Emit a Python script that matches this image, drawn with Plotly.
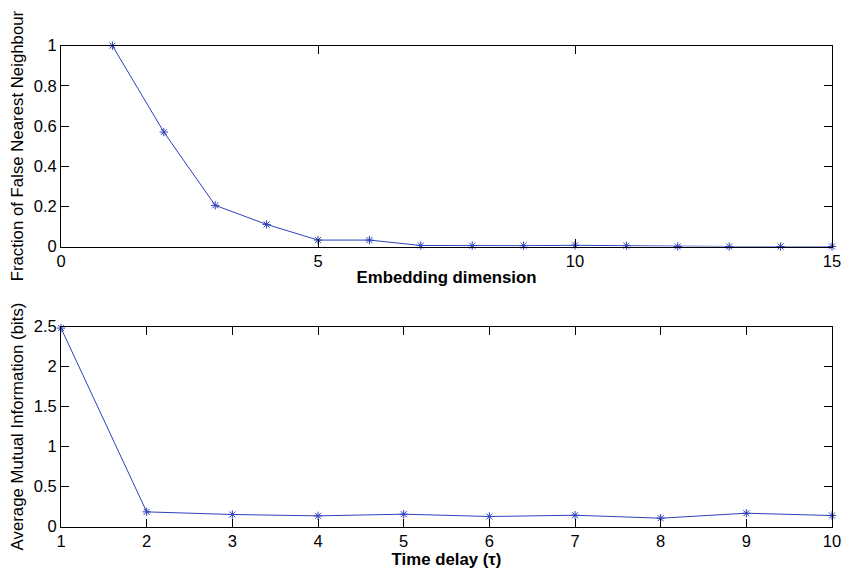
import plotly.graph_objects as go

emb_dim = list(range(1, 16))
fnn_frac = [1.0, 0.57, 0.205, 0.11, 0.032, 0.032, 0.005, 0.004, 0.004, 0.006, 0.004, 0.0, 0.0, 0.0, 0.0]

delay = list(range(1, 11))
ami_bits = [2.48, 0.183, 0.15, 0.133, 0.154, 0.125, 0.141, 0.104, 0.166, 0.137]

top_xticks = [0, 5, 10, 15]
top_yticks = [0, 0.2, 0.4, 0.6, 0.8, 1]
top_yticktext = ["0", "0.2", "0.4", "0.6", "0.8", "1"]
bot_xticks = list(range(1, 11))
bot_yticks = [0, 0.5, 1, 1.5, 2, 2.5]
bot_yticktext = ["0", "0.5", "1", "1.5", "2", "2.5"]

col = "rgb(45,65,185)"
fam = "Liberation Sans, Arial, Helvetica, sans-serif"
fig = go.Figure()
for xs, ys, xa, ya in [(emb_dim, fnn_frac, "x", "y"), (delay, ami_bits, "x2", "y2")]:
    fig.add_trace(go.Scatter(x=xs, y=ys, mode="lines+markers",
                             line=dict(color=col, width=1),
                             marker=dict(symbol="asterisk-open", size=7, color=col,
                                         line=dict(color=col, width=1)),
                             xaxis=xa, yaxis=ya, showlegend=False, cliponaxis=False))

font = dict(family=fam, size=16.5, color="black")
axis_common = dict(showgrid=False, zeroline=False, showline=True, linecolor="black", linewidth=1,
                   mirror="ticks", ticks="inside", ticklen=8, tickcolor="black",
                   tickfont=font, automargin=False)

H = 569.0
def dom(top_px, bot_px):
    return [(H - bot_px) / H, (H - top_px) / H]

fig.update_layout(
    width=851, height=569,
    margin=dict(l=61, r=19, t=0, b=0),
    paper_bgcolor="white", plot_bgcolor="white",
    font=font,
    xaxis=dict(axis_common, domain=[0, 1], range=[0, 15], tickvals=top_xticks, anchor="y",
               title=dict(text="<b>Embedding dimension</b>", font=dict(family=fam, size=16.8), standoff=1)),
    yaxis=dict(axis_common, domain=dom(45.7, 246.5), range=[0, 1], tickvals=top_yticks,
               ticktext=top_yticktext, anchor="x",
               title=dict(text="Fraction of False Nearest Neighbour", font=dict(family=fam, size=16.8), standoff=5)),
    xaxis2=dict(axis_common, domain=[0, 1], range=[1, 10], tickvals=bot_xticks, anchor="y2",
                title=dict(text="<b>Time delay (τ)</b>", font=dict(family=fam, size=16.8), standoff=1)),
    yaxis2=dict(axis_common, domain=dom(326.5, 526.5), range=[0, 2.5], tickvals=bot_yticks,
                ticktext=bot_yticktext, anchor="x2",
                title=dict(text="Average Mutual Information (bits)", font=dict(family=fam, size=16.8), standoff=5)),
)

fig.write_html("out.html")
